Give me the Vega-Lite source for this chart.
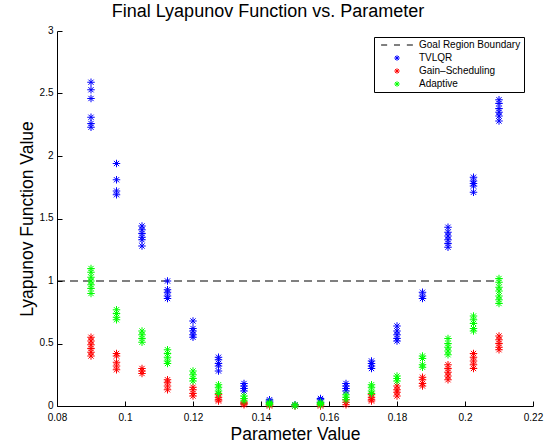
{
  "$schema": "https://vega.github.io/schema/vega-lite/v6.json",
  "width": 476,
  "height": 375,
  "autosize": {"type": "none"},
  "padding": {"left": 57, "top": 31, "right": 20, "bottom": 39},
  "background": "white",
  "config": {
    "view": {"stroke": null},
    "font": "Liberation Sans",
    "axis": {
      "grid": false,
      "domainColor": "black",
      "domainWidth": 1,
      "tickColor": "black",
      "tickWidth": 1,
      "tickSize": -5,
      "labelFlush": false,
      "labelOverlap": false,
      "labelBound": false,
      "labelFont": "Liberation Sans",
      "labelFontSize": 10,
      "labelColor": "black",
      "titleFont": "Liberation Sans",
      "titleFontSize": 17.5,
      "titleFontWeight": "normal",
      "titleColor": "black"
    }
  },
  "title": {
    "text": "Final Lyapunov Function vs. Parameter",
    "font": "Liberation Sans",
    "fontSize": 18,
    "fontWeight": "normal",
    "color": "black",
    "anchor": "middle",
    "dx": -27,
    "offset": 4
  },
  "datasets": {
    "goal": [
      {"p": 0.08, "v": 1},
      {"p": 0.21, "v": 1}
    ],
    "runs": [
      {"p": 0.09, "s": "TVLQR", "v": 2.59}, {"p": 0.09, "s": "TVLQR", "v": 2.53}, {"p": 0.09, "s": "TVLQR", "v": 2.46}, {"p": 0.09, "s": "TVLQR", "v": 2.31}, {"p": 0.09, "s": "TVLQR", "v": 2.26}, {"p": 0.09, "s": "TVLQR", "v": 2.23},
      {"p": 0.0975, "s": "TVLQR", "v": 1.94}, {"p": 0.0975, "s": "TVLQR", "v": 1.81}, {"p": 0.0975, "s": "TVLQR", "v": 1.72}, {"p": 0.0975, "s": "TVLQR", "v": 1.69},
      {"p": 0.105, "s": "TVLQR", "v": 1.44}, {"p": 0.105, "s": "TVLQR", "v": 1.41}, {"p": 0.105, "s": "TVLQR", "v": 1.38}, {"p": 0.105, "s": "TVLQR", "v": 1.35}, {"p": 0.105, "s": "TVLQR", "v": 1.33}, {"p": 0.105, "s": "TVLQR", "v": 1.28},
      {"p": 0.1125, "s": "TVLQR", "v": 1.0}, {"p": 0.1125, "s": "TVLQR", "v": 0.93}, {"p": 0.1125, "s": "TVLQR", "v": 0.91}, {"p": 0.1125, "s": "TVLQR", "v": 0.88}, {"p": 0.1125, "s": "TVLQR", "v": 0.86},
      {"p": 0.12, "s": "TVLQR", "v": 0.68}, {"p": 0.12, "s": "TVLQR", "v": 0.62}, {"p": 0.12, "s": "TVLQR", "v": 0.6}, {"p": 0.12, "s": "TVLQR", "v": 0.57}, {"p": 0.12, "s": "TVLQR", "v": 0.55},
      {"p": 0.1275, "s": "TVLQR", "v": 0.39}, {"p": 0.1275, "s": "TVLQR", "v": 0.37}, {"p": 0.1275, "s": "TVLQR", "v": 0.34}, {"p": 0.1275, "s": "TVLQR", "v": 0.32}, {"p": 0.1275, "s": "TVLQR", "v": 0.28},
      {"p": 0.135, "s": "TVLQR", "v": 0.18}, {"p": 0.135, "s": "TVLQR", "v": 0.16}, {"p": 0.135, "s": "TVLQR", "v": 0.14}, {"p": 0.135, "s": "TVLQR", "v": 0.12},
      {"p": 0.1425, "s": "TVLQR", "v": 0.05}, {"p": 0.1425, "s": "TVLQR", "v": 0.04}, {"p": 0.1425, "s": "TVLQR", "v": 0.03},
      {"p": 0.15, "s": "TVLQR", "v": 0.01},
      {"p": 0.1575, "s": "TVLQR", "v": 0.06}, {"p": 0.1575, "s": "TVLQR", "v": 0.05}, {"p": 0.1575, "s": "TVLQR", "v": 0.03},
      {"p": 0.165, "s": "TVLQR", "v": 0.18}, {"p": 0.165, "s": "TVLQR", "v": 0.16}, {"p": 0.165, "s": "TVLQR", "v": 0.14}, {"p": 0.165, "s": "TVLQR", "v": 0.12},
      {"p": 0.1725, "s": "TVLQR", "v": 0.36}, {"p": 0.1725, "s": "TVLQR", "v": 0.34}, {"p": 0.1725, "s": "TVLQR", "v": 0.32}, {"p": 0.1725, "s": "TVLQR", "v": 0.3},
      {"p": 0.18, "s": "TVLQR", "v": 0.64}, {"p": 0.18, "s": "TVLQR", "v": 0.6}, {"p": 0.18, "s": "TVLQR", "v": 0.57}, {"p": 0.18, "s": "TVLQR", "v": 0.54}, {"p": 0.18, "s": "TVLQR", "v": 0.52},
      {"p": 0.1875, "s": "TVLQR", "v": 0.91}, {"p": 0.1875, "s": "TVLQR", "v": 0.88}, {"p": 0.1875, "s": "TVLQR", "v": 0.86},
      {"p": 0.195, "s": "TVLQR", "v": 1.43}, {"p": 0.195, "s": "TVLQR", "v": 1.39}, {"p": 0.195, "s": "TVLQR", "v": 1.36}, {"p": 0.195, "s": "TVLQR", "v": 1.33}, {"p": 0.195, "s": "TVLQR", "v": 1.3}, {"p": 0.195, "s": "TVLQR", "v": 1.27},
      {"p": 0.2025, "s": "TVLQR", "v": 1.83}, {"p": 0.2025, "s": "TVLQR", "v": 1.8}, {"p": 0.2025, "s": "TVLQR", "v": 1.78}, {"p": 0.2025, "s": "TVLQR", "v": 1.76}, {"p": 0.2025, "s": "TVLQR", "v": 1.71},
      {"p": 0.21, "s": "TVLQR", "v": 2.45}, {"p": 0.21, "s": "TVLQR", "v": 2.42}, {"p": 0.21, "s": "TVLQR", "v": 2.38}, {"p": 0.21, "s": "TVLQR", "v": 2.35}, {"p": 0.21, "s": "TVLQR", "v": 2.32}, {"p": 0.21, "s": "TVLQR", "v": 2.28},

      {"p": 0.09, "s": "Gain–Scheduling", "v": 0.55}, {"p": 0.09, "s": "Gain–Scheduling", "v": 0.52}, {"p": 0.09, "s": "Gain–Scheduling", "v": 0.49}, {"p": 0.09, "s": "Gain–Scheduling", "v": 0.46}, {"p": 0.09, "s": "Gain–Scheduling", "v": 0.43}, {"p": 0.09, "s": "Gain–Scheduling", "v": 0.4},
      {"p": 0.0975, "s": "Gain–Scheduling", "v": 0.42}, {"p": 0.0975, "s": "Gain–Scheduling", "v": 0.4}, {"p": 0.0975, "s": "Gain–Scheduling", "v": 0.35}, {"p": 0.0975, "s": "Gain–Scheduling", "v": 0.32}, {"p": 0.0975, "s": "Gain–Scheduling", "v": 0.29},
      {"p": 0.105, "s": "Gain–Scheduling", "v": 0.3}, {"p": 0.105, "s": "Gain–Scheduling", "v": 0.28}, {"p": 0.105, "s": "Gain–Scheduling", "v": 0.26},
      {"p": 0.1125, "s": "Gain–Scheduling", "v": 0.21}, {"p": 0.1125, "s": "Gain–Scheduling", "v": 0.19}, {"p": 0.1125, "s": "Gain–Scheduling", "v": 0.16}, {"p": 0.1125, "s": "Gain–Scheduling", "v": 0.13},
      {"p": 0.12, "s": "Gain–Scheduling", "v": 0.15}, {"p": 0.12, "s": "Gain–Scheduling", "v": 0.13}, {"p": 0.12, "s": "Gain–Scheduling", "v": 0.1}, {"p": 0.12, "s": "Gain–Scheduling", "v": 0.08},
      {"p": 0.1275, "s": "Gain–Scheduling", "v": 0.09}, {"p": 0.1275, "s": "Gain–Scheduling", "v": 0.07}, {"p": 0.1275, "s": "Gain–Scheduling", "v": 0.05}, {"p": 0.1275, "s": "Gain–Scheduling", "v": 0.04},
      {"p": 0.135, "s": "Gain–Scheduling", "v": 0.03}, {"p": 0.135, "s": "Gain–Scheduling", "v": 0.02}, {"p": 0.135, "s": "Gain–Scheduling", "v": 0.01},
      {"p": 0.1425, "s": "Gain–Scheduling", "v": 0.01}, {"p": 0.1425, "s": "Gain–Scheduling", "v": 0.0},
      {"p": 0.15, "s": "Gain–Scheduling", "v": 0.0},
      {"p": 0.1575, "s": "Gain–Scheduling", "v": 0.01}, {"p": 0.1575, "s": "Gain–Scheduling", "v": 0.0},
      {"p": 0.165, "s": "Gain–Scheduling", "v": 0.05}, {"p": 0.165, "s": "Gain–Scheduling", "v": 0.03}, {"p": 0.165, "s": "Gain–Scheduling", "v": 0.01},
      {"p": 0.1725, "s": "Gain–Scheduling", "v": 0.09}, {"p": 0.1725, "s": "Gain–Scheduling", "v": 0.07}, {"p": 0.1725, "s": "Gain–Scheduling", "v": 0.05}, {"p": 0.1725, "s": "Gain–Scheduling", "v": 0.04},
      {"p": 0.18, "s": "Gain–Scheduling", "v": 0.16}, {"p": 0.18, "s": "Gain–Scheduling", "v": 0.13}, {"p": 0.18, "s": "Gain–Scheduling", "v": 0.11}, {"p": 0.18, "s": "Gain–Scheduling", "v": 0.08},
      {"p": 0.1875, "s": "Gain–Scheduling", "v": 0.23}, {"p": 0.1875, "s": "Gain–Scheduling", "v": 0.21}, {"p": 0.1875, "s": "Gain–Scheduling", "v": 0.18}, {"p": 0.1875, "s": "Gain–Scheduling", "v": 0.16},
      {"p": 0.195, "s": "Gain–Scheduling", "v": 0.33}, {"p": 0.195, "s": "Gain–Scheduling", "v": 0.3}, {"p": 0.195, "s": "Gain–Scheduling", "v": 0.27}, {"p": 0.195, "s": "Gain–Scheduling", "v": 0.24}, {"p": 0.195, "s": "Gain–Scheduling", "v": 0.21},
      {"p": 0.2025, "s": "Gain–Scheduling", "v": 0.42}, {"p": 0.2025, "s": "Gain–Scheduling", "v": 0.39}, {"p": 0.2025, "s": "Gain–Scheduling", "v": 0.36}, {"p": 0.2025, "s": "Gain–Scheduling", "v": 0.33}, {"p": 0.2025, "s": "Gain–Scheduling", "v": 0.3},
      {"p": 0.21, "s": "Gain–Scheduling", "v": 0.56}, {"p": 0.21, "s": "Gain–Scheduling", "v": 0.53}, {"p": 0.21, "s": "Gain–Scheduling", "v": 0.5}, {"p": 0.21, "s": "Gain–Scheduling", "v": 0.47}, {"p": 0.21, "s": "Gain–Scheduling", "v": 0.45},

      {"p": 0.09, "s": "Adaptive", "v": 1.1}, {"p": 0.09, "s": "Adaptive", "v": 1.07}, {"p": 0.09, "s": "Adaptive", "v": 1.03}, {"p": 0.09, "s": "Adaptive", "v": 1.0}, {"p": 0.09, "s": "Adaptive", "v": 0.97}, {"p": 0.09, "s": "Adaptive", "v": 0.94}, {"p": 0.09, "s": "Adaptive", "v": 0.9},
      {"p": 0.0975, "s": "Adaptive", "v": 0.77}, {"p": 0.0975, "s": "Adaptive", "v": 0.74}, {"p": 0.0975, "s": "Adaptive", "v": 0.71}, {"p": 0.0975, "s": "Adaptive", "v": 0.69},
      {"p": 0.105, "s": "Adaptive", "v": 0.6}, {"p": 0.105, "s": "Adaptive", "v": 0.57}, {"p": 0.105, "s": "Adaptive", "v": 0.54}, {"p": 0.105, "s": "Adaptive", "v": 0.51},
      {"p": 0.1125, "s": "Adaptive", "v": 0.45}, {"p": 0.1125, "s": "Adaptive", "v": 0.42}, {"p": 0.1125, "s": "Adaptive", "v": 0.39}, {"p": 0.1125, "s": "Adaptive", "v": 0.36}, {"p": 0.1125, "s": "Adaptive", "v": 0.34},
      {"p": 0.12, "s": "Adaptive", "v": 0.28}, {"p": 0.12, "s": "Adaptive", "v": 0.25}, {"p": 0.12, "s": "Adaptive", "v": 0.22}, {"p": 0.12, "s": "Adaptive", "v": 0.2},
      {"p": 0.1275, "s": "Adaptive", "v": 0.17}, {"p": 0.1275, "s": "Adaptive", "v": 0.15}, {"p": 0.1275, "s": "Adaptive", "v": 0.12}, {"p": 0.1275, "s": "Adaptive", "v": 0.1},
      {"p": 0.135, "s": "Adaptive", "v": 0.08}, {"p": 0.135, "s": "Adaptive", "v": 0.06}, {"p": 0.135, "s": "Adaptive", "v": 0.04},
      {"p": 0.1425, "s": "Adaptive", "v": 0.03}, {"p": 0.1425, "s": "Adaptive", "v": 0.02}, {"p": 0.1425, "s": "Adaptive", "v": 0.01},
      {"p": 0.15, "s": "Adaptive", "v": 0.01}, {"p": 0.15, "s": "Adaptive", "v": 0.0},
      {"p": 0.1575, "s": "Adaptive", "v": 0.03}, {"p": 0.1575, "s": "Adaptive", "v": 0.02}, {"p": 0.1575, "s": "Adaptive", "v": 0.01},
      {"p": 0.165, "s": "Adaptive", "v": 0.09}, {"p": 0.165, "s": "Adaptive", "v": 0.07}, {"p": 0.165, "s": "Adaptive", "v": 0.05},
      {"p": 0.1725, "s": "Adaptive", "v": 0.17}, {"p": 0.1725, "s": "Adaptive", "v": 0.15}, {"p": 0.1725, "s": "Adaptive", "v": 0.12}, {"p": 0.1725, "s": "Adaptive", "v": 0.1},
      {"p": 0.18, "s": "Adaptive", "v": 0.24}, {"p": 0.18, "s": "Adaptive", "v": 0.22}, {"p": 0.18, "s": "Adaptive", "v": 0.2},
      {"p": 0.1875, "s": "Adaptive", "v": 0.4}, {"p": 0.1875, "s": "Adaptive", "v": 0.38}, {"p": 0.1875, "s": "Adaptive", "v": 0.33}, {"p": 0.1875, "s": "Adaptive", "v": 0.31},
      {"p": 0.195, "s": "Adaptive", "v": 0.54}, {"p": 0.195, "s": "Adaptive", "v": 0.5}, {"p": 0.195, "s": "Adaptive", "v": 0.47}, {"p": 0.195, "s": "Adaptive", "v": 0.44}, {"p": 0.195, "s": "Adaptive", "v": 0.41},
      {"p": 0.2025, "s": "Adaptive", "v": 0.72}, {"p": 0.2025, "s": "Adaptive", "v": 0.69}, {"p": 0.2025, "s": "Adaptive", "v": 0.66}, {"p": 0.2025, "s": "Adaptive", "v": 0.62}, {"p": 0.2025, "s": "Adaptive", "v": 0.6},
      {"p": 0.21, "s": "Adaptive", "v": 1.02}, {"p": 0.21, "s": "Adaptive", "v": 0.99}, {"p": 0.21, "s": "Adaptive", "v": 0.95}, {"p": 0.21, "s": "Adaptive", "v": 0.92}, {"p": 0.21, "s": "Adaptive", "v": 0.88}, {"p": 0.21, "s": "Adaptive", "v": 0.85}, {"p": 0.21, "s": "Adaptive", "v": 0.82}
    ]
  },
  "layer": [
    {
      "data": {"name": "goal"},
      "mark": {"type": "line", "color": "black", "strokeWidth": 1, "strokeDash": [8, 5]},
      "encoding": {
        "x": {
          "field": "p", "type": "quantitative",
          "scale": {"domain": [0.08, 0.22], "nice": false, "zero": false},
          "axis": {
            "title": "Parameter Value",
            "values": [0.08, 0.1, 0.12, 0.14, 0.16, 0.18, 0.2, 0.22],
            "format": ".2~f",
            "labelPadding": 11,
            "titleBaseline": "alphabetic",
            "titleY": 33
          }
        },
        "y": {
          "field": "v", "type": "quantitative",
          "scale": {"domain": [0, 3], "nice": false},
          "axis": {
            "title": "Lyapunov Function Value",
            "values": [0, 0.5, 1, 1.5, 2, 2.5, 3],
            "format": "~g",
            "labelPadding": 9,
            "labelOffset": -1,
            "titleBaseline": "alphabetic",
            "titleX": -25,
            "titleY": 187.5
          }
        }
      }
    },
    {
      "data": {"name": "runs"},
      "mark": {"type": "point", "filled": false, "strokeWidth": 1, "size": 56, "opacity": 1},
      "encoding": {
        "x": {"field": "p", "type": "quantitative"},
        "y": {"field": "v", "type": "quantitative"},
        "color": {
          "field": "s", "type": "nominal",
          "scale": {
            "domain": ["Goal Region Boundary", "TVLQR", "Gain–Scheduling", "Adaptive"],
            "range": ["#000000", "#0000ff", "#ff0000", "#00ff00"]
          },
          "legend": {
            "title": null, "orient": "none", "legendX": 317, "legendY": 6,
            "strokeColor": "black", "fillColor": "white", "padding": 3,
            "labelFont": "Liberation Sans", "labelFontSize": 10, "labelColor": "black",
            "symbolSize": 30, "symbolStrokeWidth": 1, "symbolOffset": 15, "labelOffset": 17,
            "rowPadding": 3
          }
        },
        "shape": {
          "field": "s", "type": "nominal",
          "scale": {
            "domain": ["Goal Region Boundary", "TVLQR", "Gain–Scheduling", "Adaptive"],
            "range": [
              "M-5.8,0H-3.6M-1.1,0H1.1M3.6,0H5.8",
              "M-1,0H1M0,-1V1M-0.7,-0.7L0.7,0.7M-0.7,0.7L0.7,-0.7",
              "M-1,0H1M0,-1V1M-0.7,-0.7L0.7,0.7M-0.7,0.7L0.7,-0.7",
              "M-1,0H1M0,-1V1M-0.7,-0.7L0.7,0.7M-0.7,0.7L0.7,-0.7"
            ]
          },
          "legend": {
            "title": null, "orient": "none", "legendX": 317, "legendY": 6,
            "strokeColor": "black", "fillColor": "white", "padding": 3,
            "labelFont": "Liberation Sans", "labelFontSize": 10, "labelColor": "black",
            "symbolSize": 30, "symbolStrokeWidth": 1, "symbolOffset": 15, "labelOffset": 17,
            "rowPadding": 3
          }
        }
      }
    }
  ]
}
